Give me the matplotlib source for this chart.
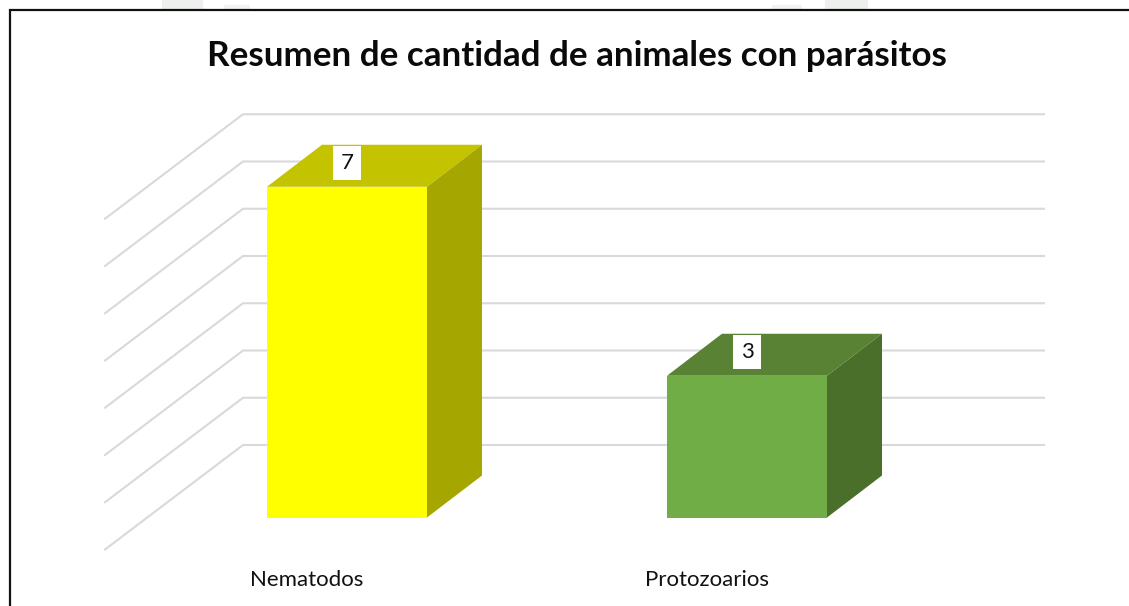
#!/usr/bin/env python3
"""3D-look column chart: two boxes on a floor with a back wall of gridlines."""
import matplotlib as mpl
mpl.use("Agg")
import matplotlib.pyplot as plt
from matplotlib.patches import Rectangle

TITLE = "Resumen de cantidad de animales con parásitos"
categories = ["Nematodos", "Protozoarios"]
values = [7, 3]
grid_levels = [0, 1, 2, 3, 4, 5, 6, 7]
front_colors = ["#FFFF00", "#70AD47"]
top_colors = ["#C3C300", "#598235"]
side_colors = ["#A6A600", "#4A6F2B"]

W, H = 1129, 606
PX_X = 400.0    # pixels per category
PX_Y = 47.25    # pixels per value unit
X0, Y0 = 347.0, 517.5    # pixel position of first category at value 0


def hpx(px):
    return px / PX_X


def vpx(px):
    return px / PX_Y


mpl.rcParams["font.family"] = ["Lato", "DejaVu Sans"]

fig = plt.figure(figsize=(W / 100, H / 100), dpi=100, facecolor="white")
ax = fig.add_axes([0, 0, 1, 1])
ax.set_xlim(-hpx(X0), hpx(W - X0))
ax.set_ylim(-vpx(H - Y0), vpx(Y0))
ax.axis("off")

# scanned page behind the chart: faint watermark showing above the frame
for x, w in [(162, 41), (825, 43)]:
    fig.add_artist(Rectangle((x / W, 1 - 10 / H), w / W, 10 / H, color="#EEF0EE",
                             lw=0, transform=fig.transFigure))
for x, w in [(224, 26), (772, 30)]:
    fig.add_artist(Rectangle((x / W, 1 - 10 / H), w / W, 5 / H, color="#F1F2F1",
                             lw=0, transform=fig.transFigure))
fig.add_artist(Rectangle((9.5 / W, -0.01), 1.1, 1 - 10 / H + 0.01, fill=False,
                         ec="#111111", lw=1.6, transform=fig.transFigure))

# gridlines: diagonal along the floor side, then straight along the back wall
wall_x, wall_end, floor_x = hpx(243 - X0), hpx(1044 - X0), hpx(105 - X0)
wall_dy, floor_dy = vpx(72.5), vpx(-32)
for lev in grid_levels:
    ax.plot([floor_x, wall_x, wall_end],
            [lev + floor_dy, lev + wall_dy, lev + wall_dy],
            color="#D9D9D9", lw=1.5, solid_joinstyle="miter", zorder=1)

half = hpx(80)
dx, dy = hpx(55), vpx(42)
for i, (val, name) in enumerate(zip(values, categories)):
    l, r = i - half, i + half
    ax.fill([l, r, r, l], [0, 0, val, val], color=front_colors[i], lw=0, zorder=3)
    ax.fill([l, r, r + dx, l + dx], [val, val, val + dy, val + dy],
            color=top_colors[i], lw=0, zorder=3)
    ax.fill([r, r + dx, r + dx, r], [0, dy, val + dy, val],
            color=side_colors[i], lw=0, zorder=3)
    # value label on a white box straddling the top face
    cy = val + vpx(24)
    ax.add_patch(Rectangle((i - hpx(14), cy - vpx(17)), hpx(28), vpx(34),
                           color="white", lw=0, zorder=4))
    ax.text(i, cy, str(val), ha="center", va="center", fontsize=16,
            color="#111111", zorder=5)
    ax.text(i - hpx(40), vpx(-63), name, ha="center", va="center", fontsize=16,
            color="#111111")

ax.text(hpx(576.5 - X0), vpx(Y0 - 56.5), TITLE, ha="center", va="center",
        fontsize=25.2, fontweight="bold", color="#0A0A0A")

fig.savefig("out.png", dpi=100)
